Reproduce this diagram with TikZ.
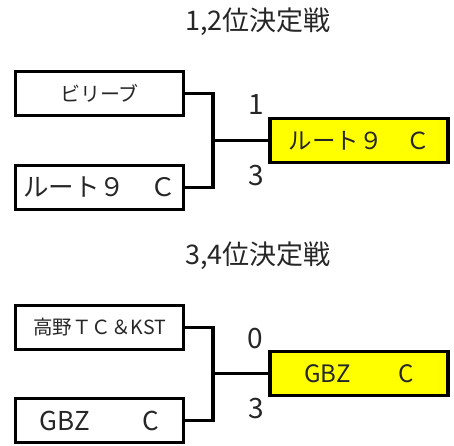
\documentclass[tikz,border=0pt]{standalone}
\usepackage{fontspec}
\setmainfont{Noto Sans CJK JP}
\definecolor{winyellow}{RGB}{255,255,0}
\definecolor{inkgray}{RGB}{38,38,38}

\begin{document}
\begin{tikzpicture}[x=1pt,y=-1pt,line join=miter,
  team/.style={draw,line width=3.6pt,minimum width=168pt,minimum height=44pt,
  inner sep=0pt,text=inkgray},
  winner/.style={team,fill=winyellow,minimum width=178pt},
  bracket/.style={line width=3.3pt},
  score/.style={text=inkgray,font=\fontsize{28}{28}\selectfont}]
  \useasboundingbox (0,0) rectangle (454,445);
  % 1,2位決定戦
  \node[text=inkgray,font=\fontsize{27}{27}\selectfont] (title12) at (258,21.5) {1,2位決定戦};
  \node[team,font=\fontsize{20}{20}\selectfont] (believe) at (99.5,93.5) {ビリーブ};
  \node[team,font=\fontsize{25.5}{25.5}\selectfont] (route9) at (99.5,187.5) {ルート９　Ｃ};
  \node[winner,font=\fontsize{23.5}{23.5}\selectfont] (win12) at (359,140.5) {ルート９　Ｃ};
  \coordinate (join12) at (213,140.5);
  \draw[bracket] (believe.east) -| (join12) |- (route9.east);
  \draw[bracket] (join12) -- (win12.west);
  \node[score] (score12a) at (256.5,104.5) {1};
  \node[score] (score12b) at (256.5,176) {3};
  % 3,4位決定戦
  \node[text=inkgray,font=\fontsize{27}{27}\selectfont] (title34) at (258,256) {3,4位決定戦};
  \node[team,font=\fontsize{19.5}{19.5}\selectfont] (takano) at (99.5,327.5) {高野ＴＣ＆KST};
  \node[team,font=\fontsize{26}{26}\selectfont] (gbz) at (99.5,420.5) {GBZ　　C};
  \node[winner,font=\fontsize{24}{24}\selectfont] (win34) at (359,373.5) {GBZ　　C};
  \coordinate (join34) at (213,373.5);
  \draw[bracket] (takano.east) -| (join34) |- (gbz.east);
  \draw[bracket] (join34) -- (win34.west);
  \node[score] (score34a) at (255.5,339) {0};
  \node[score] (score34b) at (256,409) {3};
\end{tikzpicture}
\end{document}
